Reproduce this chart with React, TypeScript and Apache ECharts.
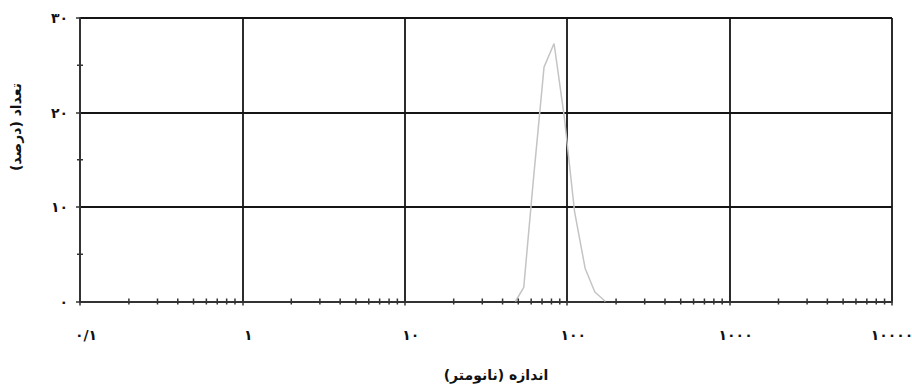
import React, { useEffect, useRef } from "react";
import * as echarts from "echarts";

// Particle size (nm) and number percentage
const sizes = [48, 54, 62, 72, 83, 96, 111, 129, 148, 172];
const counts = [0, 1.5, 13, 24.8, 27.3, 19.5, 9.5, 3.5, 1.0, 0];

const xTickLabels = ["۰/۱", "۱", "۱۰", "۱۰۰", "۱۰۰۰", "۱۰۰۰۰"];
const yTickLabels = ["۰", "۱۰", "۲۰", "۳۰"];
const xDecades = [0.1, 1, 10, 100, 1000];
const xMinorMultipliers = [2, 3, 4, 5, 6, 7, 8, 9];
const yMinorValues = [5, 15, 25];

const xTitle = "اندازه (نانومتر)";
const yTitle = "تعداد (درصد)";

const FONT = "'DejaVu Sans', 'Noto Sans', sans-serif";

export default function App() {
  const ref = useRef<HTMLDivElement>(null);
  useEffect(() => {
    if (!ref.current) return;
    const chart = echarts.init(ref.current, undefined, { renderer: "svg" });

    const minorData: number[][] = [];
    xDecades.forEach((d) => {
      xMinorMultipliers.forEach((m) => minorData.push([d * m, 0, 0]));
    });
    yMinorValues.forEach((v) => minorData.push([0.1, v, 1]));

    const labelText = {
      fontFamily: FONT,
      fontWeight: "bold" as const,
      fontSize: 14,
      color: "#111",
    };

    chart.setOption({
      animation: false,
      backgroundColor: "#ffffff",
      grid: {
        left: 80,
        top: 18,
        width: 812,
        height: 283.5,
        containLabel: false,
        outerBoundsMode: "none",
      },
      xAxis: {
        type: "log",
        logBase: 10,
        min: 0.1,
        max: 10000,
        axisLine: { show: true, lineStyle: { color: "#333333", width: 2 } },
        axisTick: { show: true, length: 4, lineStyle: { color: "#333333", width: 1.5 } },
        minorTick: { show: false },
        splitLine: { show: true, lineStyle: { color: "#151515", width: 1.8 } },
        axisLabel: {
          margin: 26,
          hideOverlap: false,
          ...labelText,
          rich: {
            a: { ...labelText, padding: [0, 0, 0, 12] },
            b: { ...labelText, padding: [0, 0, 0, 0] },
          },
          formatter: (v: number) => {
            const i = Math.round(Math.log10(v)) + 1;
            const t = xTickLabels[i] ?? "";
            return i === xTickLabels.length - 1 ? `{b|${t}}` : `{a|${t}}`;
          },
        },
      },
      yAxis: {
        type: "value",
        min: 0,
        max: 30,
        interval: 10,
        axisLine: { show: true, lineStyle: { color: "#333333", width: 2 } },
        axisTick: { show: true, length: 4, lineStyle: { color: "#333333", width: 1.5 } },
        splitLine: { show: true, lineStyle: { color: "#151515", width: 1.8 } },
        axisLabel: {
          margin: 12,
          ...labelText,
          formatter: (v: number) => yTickLabels[Math.round(v / 10)] ?? "",
        },
      },
      graphic: [
        {
          type: "text",
          x: 16,
          y: 127,
          rotation: Math.PI / 2,
          style: {
            text: yTitle,
            fontFamily: FONT,
            fontWeight: "bold",
            fontSize: 14,
            fill: "#111",
            align: "center",
            verticalAlign: "middle",
          },
        },
        {
          type: "text",
          x: 496,
          y: 375,
          style: {
            text: xTitle,
            fontFamily: FONT,
            fontWeight: "bold",
            fontSize: 14,
            fill: "#111",
            align: "center",
            verticalAlign: "middle",
          },
        },
      ],
      series: [
        {
          type: "line",
          data: sizes.map((s, i) => [s, counts[i]]),
          symbol: "none",
          lineStyle: { color: "#c4c4c4", width: 1.5 },
          z: 1,
        },
        {
          type: "custom",
          clip: false,
          silent: true,
          z: 5,
          data: minorData,
          renderItem: (params: any, api: any) => {
            const p = api.coord([api.value(0), api.value(1)]);
            const dir = api.value(2);
            const h = 3;
            const shape =
              dir === 0
                ? { x1: p[0], y1: p[1] - h, x2: p[0], y2: p[1] + h }
                : { x1: p[0] - h, y1: p[1], x2: p[0] + h, y2: p[1] };
            return {
              type: "line",
              shape,
              style: { stroke: "#333333", lineWidth: 1.5 },
            };
          },
        },
      ],
    });
    return () => chart.dispose();
  }, []);

  return (
    <div
      ref={ref}
      style={{ position: "fixed", left: 0, top: 0, width: 912, height: 387, background: "#fff" }}
    />
  );
}
